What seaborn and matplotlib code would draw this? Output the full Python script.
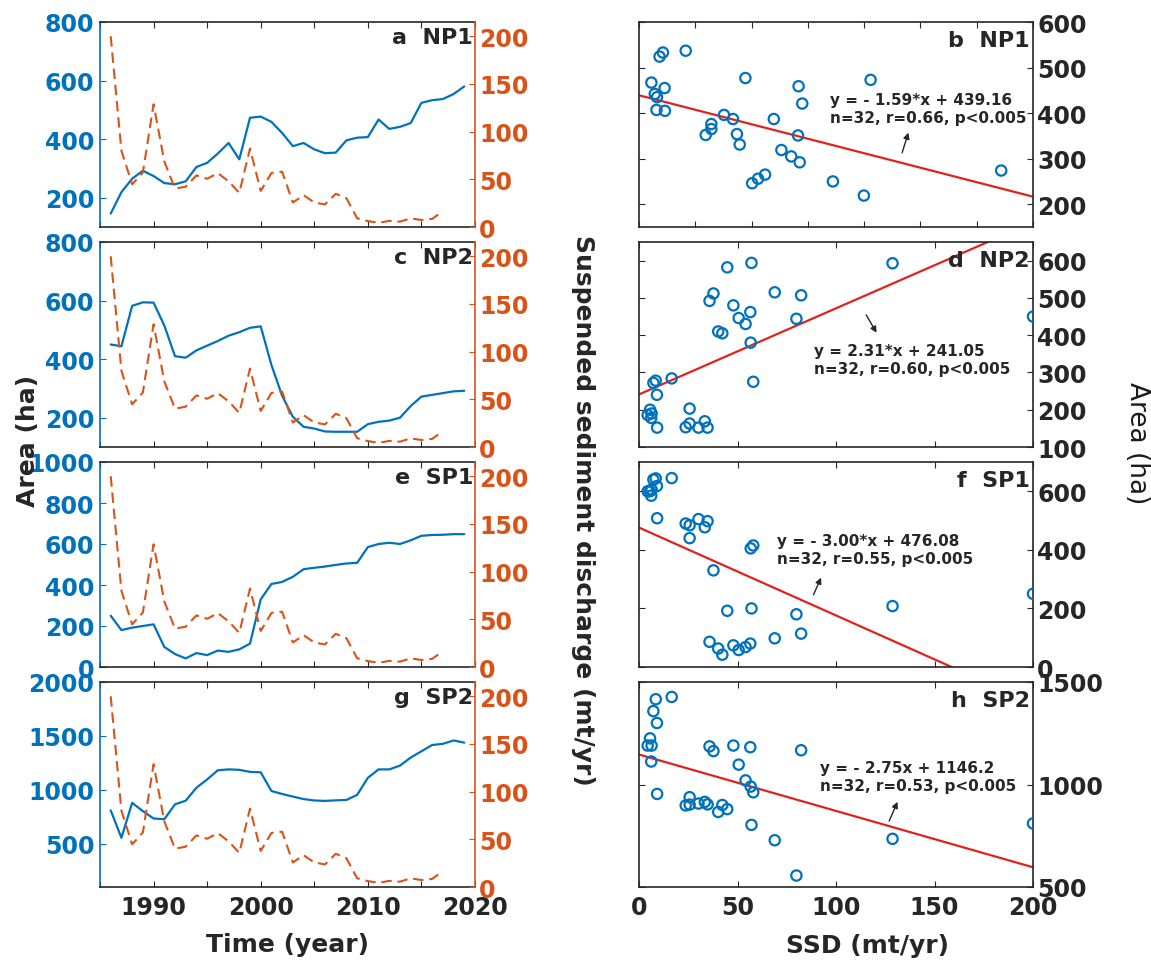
import numpy as np
import matplotlib
matplotlib.use("Agg")
import matplotlib.pyplot as plt
import seaborn as sns

sns.set_style("ticks")
plt.rcParams["font.family"] = ["DejaVu Sans"]
plt.rcParams["font.weight"] = "bold"
plt.rcParams["xtick.direction"] = "in"
plt.rcParams["ytick.direction"] = "in"

# ==== data
years = list(range(1986, 2020))
ssd_years = list(range(1986, 2018))
ssd = [200.0, 79.9, 44.8, 57.1, 128.7, 68.9, 40.2, 42.3, 54.1, 50.6,
       56.5, 47.9, 35.8, 82.3, 37.8, 56.7, 58.0, 25.7, 33.4, 25.7,
       23.7, 34.8, 30.2, 9.2, 6.2, 4.4, 6.4, 5.6, 9.1, 7.3, 8.5, 16.6]
np1 = [146, 219, 265, 292, 274, 250, 246, 256, 305, 319,
       351, 387, 331, 473, 477, 459, 421, 376, 387, 365,
       352, 354, 396, 405, 407, 467, 435, 442, 455, 524,
       533, 537, 554, 580]
np2 = [450, 444, 582, 594, 593, 515, 410, 405, 430, 446,
       462, 480, 492, 507, 512, 380, 275, 203, 169, 163,
       153, 152, 152, 152, 178, 186, 190, 200, 240, 272,
       278, 284, 290, 292]
sp1 = [250, 180, 192, 200, 208, 98, 63, 42, 68, 58,
       80, 74, 86, 114, 330, 405, 415, 440, 477, 484,
       490, 498, 505, 508, 585, 600, 606, 600, 618, 640,
       644, 645, 648, 648]
sp2 = [810, 556, 880, 803, 735, 728, 866, 900, 1020, 1097,
       1182, 1190, 1186, 1167, 1163, 990, 962, 938, 915, 902,
       898, 903, 907, 954, 1112, 1190, 1190, 1225, 1300, 1358,
       1416, 1427, 1458, 1438]

sites = ["NP1", "NP2", "SP1", "SP2"]
areas = [np1, np2, sp1, sp2]
left_letters = ["a", "c", "e", "g"]
right_letters = ["b", "d", "f", "h"]
slopes = [-1.59, 2.31, -3.00, -2.75]
intercepts = [439.16, 241.05, 476.08, 1146.2]
fit_texts = [
    "y = - 1.59*x + 439.16\nn=32, r=0.66, p<0.005",
    "y = 2.31*x + 241.05\nn=32, r=0.60, p<0.005",
    "y = - 3.00*x + 476.08\nn=32, r=0.55, p<0.005",
    "y = - 2.75x + 1146.2\nn=32, r=0.53, p<0.005",
]

# ==== axis settings
area_ylim = [(100, 800), (100, 800), (0, 1000), (100, 2000)]
area_ticks = [[200, 400, 600, 800], [200, 400, 600, 800],
              [0, 200, 400, 600, 800, 1000], [500, 1000, 1500, 2000]]
ssd_ylim = (0, 215)
ssd_ticks = [0, 50, 100, 150, 200]
sc_xlim = [(0, 140), (0, 200), (0, 200), (0, 200)]
sc_xticks = [list(range(0, 141, 20)), [0, 50, 100, 150, 200],
             [0, 50, 100, 150, 200], [0, 50, 100, 150, 200]]
sc_ylim = [(150, 600), (100, 650), (0, 700), (500, 1500)]
sc_yticks = [[200, 300, 400, 500, 600], [100, 200, 300, 400, 500, 600],
             [0, 200, 400, 600], [500, 1000, 1500]]
# annotation layout (data coords): text anchor, arrow tail, arrow head
text_pos = [(68, 411), (89, 336), (70, 402), (92, 1041)]
arrow_tail = [(93.2, 307), (114.6, 461), (88, 238), (126.4, 809)]
arrow_head = [(96, 363), (121.3, 400), (93, 314), (131.8, 928)]

blue = "#0072BD"
orange = "#D95319"
red = "#E3211C"
dark = "#262626"
tick_fs = 17
W, H = 1151, 962

fig = plt.figure(figsize=(W / 100, H / 100), dpi=100)

row_top = [23, 243, 463, 683]
row_h = 205

for i in range(4):
    bottom = 1 - (row_top[i] + row_h) / H
    # ---- left column: time series
    ax = fig.add_axes([100 / W, bottom, 375 / W, row_h / H])
    ax2 = ax.twinx()
    sns.lineplot(x=years, y=areas[i], ax=ax, color=blue, lw=1.6)
    sns.lineplot(x=ssd_years, y=ssd, ax=ax2, color=orange, lw=1.5,
                 linestyle=(0, (5, 2.8)))
    ax.set_xlim(1985, 2020)
    ax.set_ylim(*area_ylim[i])
    ax.set_yticks(area_ticks[i])
    ax2.set_ylim(*ssd_ylim)
    ax2.set_yticks(ssd_ticks)
    ax.set_xticks(range(1985, 2021, 5))
    ax.set_xticklabels([str(y) if y % 10 == 0 and y > 1985 else "" for y in range(1985, 2021, 5)])
    ax.tick_params(axis="x", top=True, bottom=True, labelbottom=(i == 3),
                   labelsize=tick_fs, colors=dark, length=4, pad=6)
    ax.tick_params(axis="y", colors=blue, labelsize=tick_fs, length=4, pad=4)
    ax2.tick_params(axis="y", colors=orange, labelsize=tick_fs, length=4, pad=3)
    for s in ["top", "bottom"]:
        ax.spines[s].set_color(dark)
        ax2.spines[s].set_visible(False)
    ax.spines["left"].set_color(blue)
    ax.spines["right"].set_visible(False)
    ax2.spines["left"].set_visible(False)
    ax2.spines["right"].set_color(orange)
    for s in ax.spines.values():
        s.set_linewidth(1.2)
    ax2.spines["right"].set_linewidth(1.2)
    ax.set_xlabel("")
    ax.set_ylabel("")
    ax2.set_ylabel("")
    ax.text(0.995, 0.975, f"{left_letters[i]}  {sites[i]}", transform=ax.transAxes,
            ha="right", va="top", fontsize=16, color=dark)

    # ---- right column: SSD vs area scatter
    bx = fig.add_axes([639 / W, bottom, 394 / W, row_h / H])
    sns.scatterplot(x=ssd, y=areas[i][:len(ssd)], ax=bx, color=blue,
                    facecolor="none", edgecolor=blue, s=55, linewidth=1.6,
                    marker="o", zorder=3)
    bx.set_xlim(*sc_xlim[i])
    bx.set_ylim(*sc_ylim[i])
    xs = np.array(sc_xlim[i], dtype=float)
    sns.lineplot(x=xs, y=slopes[i] * xs + intercepts[i], ax=bx, color=red, lw=1.6)
    bx.set_xticks(sc_xticks[i])
    bx.set_yticks(sc_yticks[i])
    bx.tick_params(axis="x", top=True, bottom=True, labelbottom=(i == 3),
                   labelsize=tick_fs, colors=dark, length=4, pad=6)
    bx.tick_params(axis="y", left=True, right=True, labelleft=False, labelright=True,
                   labelsize=tick_fs, colors=dark, length=4, pad=3)
    for s in bx.spines.values():
        s.set_color(dark)
        s.set_linewidth(1.2)
    bx.set_xlabel("")
    bx.set_ylabel("")
    bx.text(0.992, 0.96, f"{right_letters[i]}  {sites[i]}", transform=bx.transAxes,
            ha="right", va="top", fontsize=16, color=dark)
    bx.text(text_pos[i][0], text_pos[i][1], fit_texts[i], ha="left", va="center",
            fontsize=11, color=dark, linespacing=1.25)
    bx.annotate("", xy=arrow_head[i], xytext=arrow_tail[i],
                arrowprops=dict(arrowstyle="-|>", color=dark, lw=1.0, mutation_scale=9))

fig.text(28 / W, 1 - 441 / H, "Area (ha)", rotation=90, ha="center", va="center",
         fontsize=18, color=dark)
fig.text(583 / W, 1 - 510 / H, "Suspended sediment discharge (mt/yr)", rotation=-90,
         ha="center", va="center", fontsize=18, color=dark)
fig.text(1137 / W, 1 - 443 / H, "Area (ha)", rotation=-90, ha="center", va="center",
         fontsize=19, fontweight="medium", color="#1a1a1a")
fig.text(287 / W, 1 - 945 / H, "Time (year)", ha="center", va="center",
         fontsize=18, color=dark)
fig.text(868 / W, 1 - 946 / H, "SSD (mt/yr)", ha="center", va="center",
         fontsize=18, color=dark)

fig.savefig("out.png", dpi=100, facecolor="white")
